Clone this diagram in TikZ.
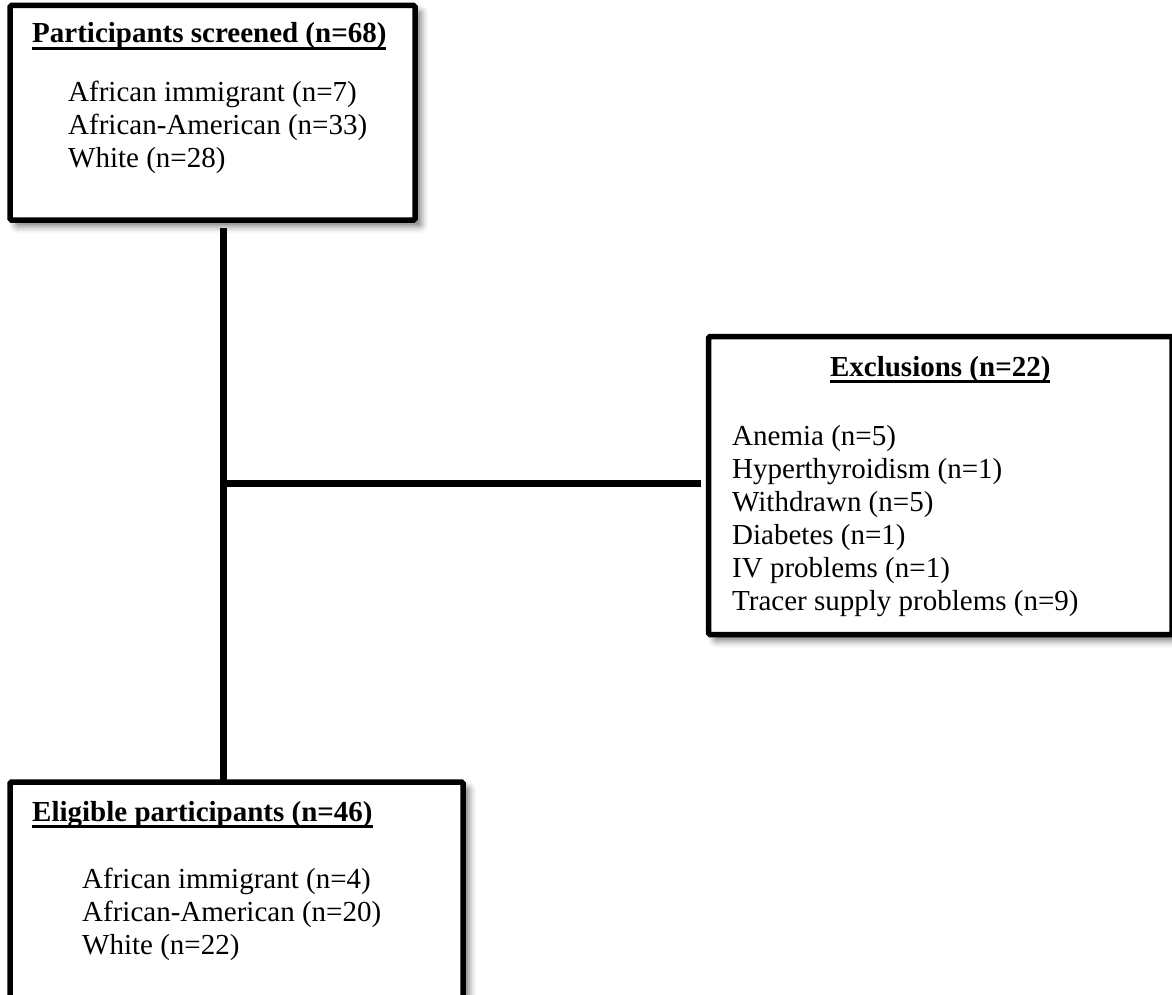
\documentclass[tikz,border=0pt]{standalone}
\usepackage{fontspec}
\setmainfont{Liberation Serif}
\usetikzlibrary{positioning, calc, shadows.blur}

\newcommand{\ulhead}[1]{\setbox0\hbox{\bfseries #1}\rlap{\rule[-7pt]{\wd0}{3pt}}\box0}

\begin{document}
\begin{tikzpicture}[x=1pt, y=-1pt,
  every node/.style={font=\fontsize{29}{33}\selectfont},
  box/.style={draw, line width=5.5pt, rounded corners=1.5pt, fill=white, inner sep=0pt, outer sep=0pt, anchor=north west,
    blur shadow={shadow xshift=6pt, shadow yshift=-6pt, shadow blur radius=7pt, shadow opacity=55}},
  head/.style={anchor=base west, inner sep=0pt},
  list/.style={anchor=base west, inner sep=0pt},
  link/.style={line width=7pt}]
  \useasboundingbox (0,0) rectangle (1172,995);
  % boxes
  \node[box, minimum width=405pt, minimum height=214.5pt] (screened) at (10,5.5) {};
  \node[box, minimum width=463.5pt, minimum height=298pt] (excl) at (708.5,336.5) {};
  \node[box, minimum width=453pt, minimum height=230pt] (eligible) at (10,782) {};
  % texts
  \node[head] (screenedHead) at ($(screened.north west)+(22,37.5)$) {\ulhead{Participants screened (n=68)}};
  \node[list] (screenedList) at ($(screened.north west)+(58,96.5)$) {\begin{tabular}[t]{@{}l@{}}
    African immigrant (n=7)\\ African-American (n=33)\\ White (n=28)\end{tabular}};
  \node[anchor=base, inner sep=0pt] (exclHead) at ($(excl.north)+(0,39.5)$) {\ulhead{Exclusions (n=22)}};
  \node[list] (exclList) at ($(excl.north west)+(23.5,108.5)$) {\begin{tabular}[t]{@{}l@{}}
    Anemia (n=5)\\ Hyperthyroidism (n=1)\\ Withdrawn (n=5)\\ Diabetes (n=1)\\
    IV problems (n=1)\\ Tracer supply problems (n=9)\end{tabular}};
  \node[head] (eligibleHead) at ($(eligible.north west)+(22,39)$) {\ulhead{Eligible participants (n=46)}};
  \node[list] (eligibleList) at ($(eligible.north west)+(72,106)$) {\begin{tabular}[t]{@{}l@{}}
    African immigrant (n=4)\\ African-American (n=20)\\ White (n=22)\end{tabular}};
  % connectors
  \coordinate (split) at (223,483);
  \draw[link, shorten <=8pt] (split |- screened.south) -- (split |- eligible.north);
  \draw[link, shorten >=8pt] (split) -- (split -| excl.west);
\end{tikzpicture}
\end{document}
